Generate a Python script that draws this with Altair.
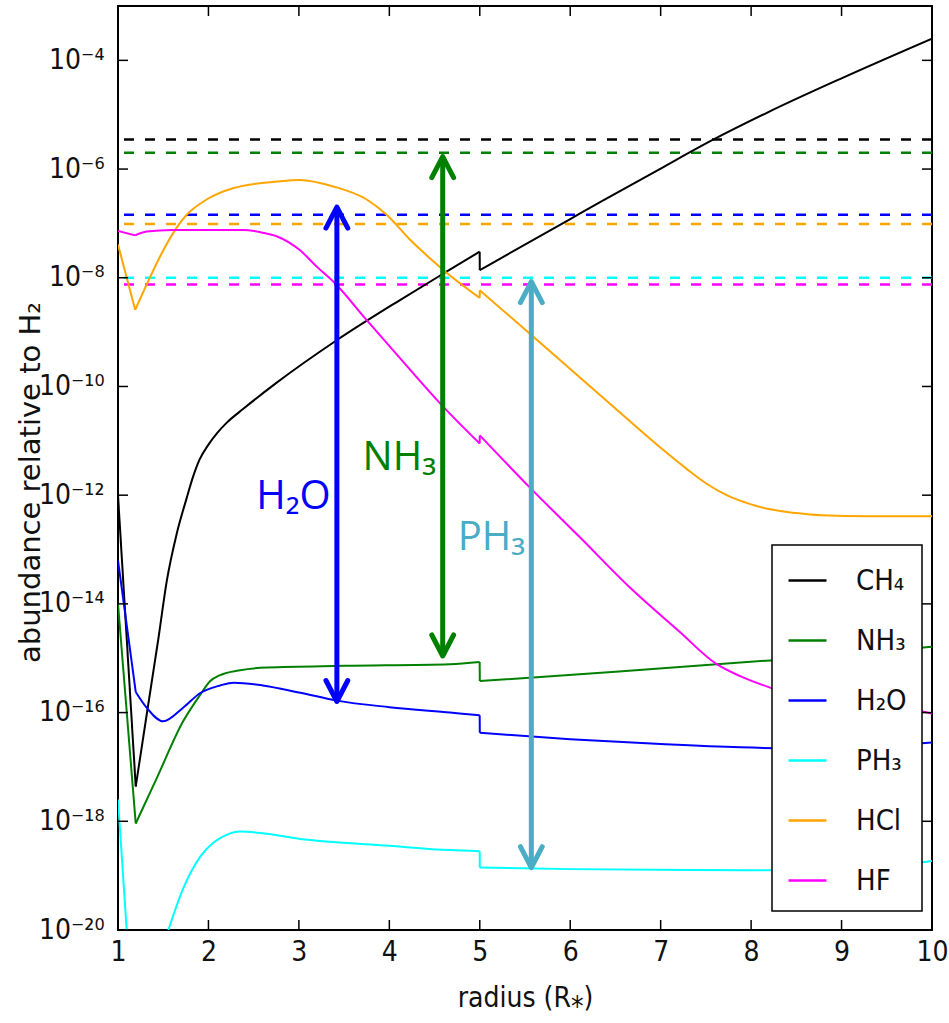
import altair as alt
import pandas as pd

# ---------------- data ----------------
species = ["CH₄", "NH₃", "H₂O", "PH₃", "HCl", "HF"]
species_colors = ["#000000", "#008000", "#0000ff", "#00ffff", "#ffa500", "#ff00ff"]

# radius (R*) and log10(abundance relative to H2)
ch4_r = [1.0, 1.196, 1.317, 1.45, 1.539, 1.649, 1.76, 1.832, 1.9, 2.0, 2.1, 2.2, 2.386, 2.755, 3.418, 4.118, 4.6, 4.999, 5.0, 6.0, 6.33, 7.0, 7.58, 8.18, 9.0, 10.0]
ch4_log = [-12.0, -17.36, -16.04, -14.6, -13.58, -12.71, -12.05, -11.65, -11.35, -11.07, -10.85, -10.67, -10.41, -9.93, -9.15, -8.41, -7.92, -7.52, -7.86, -6.92, -6.61, -5.99, -5.46, -4.96, -4.33, -3.6]
ch4_kinks = [1, 17, 18]

nh3_r = [1.0, 1.196, 1.43, 1.72, 1.91, 2.02, 2.13, 2.35, 2.65, 3.5, 4.67, 4.999, 5.0, 6.5, 8.21, 10.0]
nh3_log = [-14.0, -18.04, -17.2, -16.16, -15.67, -15.42, -15.31, -15.22, -15.17, -15.14, -15.11, -15.07, -15.42, -15.25, -15.04, -14.79]
nh3_kinks = [1, 11, 12]

h2o_r = [1.0, 1.196, 1.317, 1.5, 1.72, 1.91, 2.13, 2.28, 2.6, 3.0, 3.42, 4.0, 4.67, 4.999, 5.0, 6.0, 7.0, 7.88, 8.7, 9.3, 10.0]
h2o_log = [-13.2, -15.62, -15.91, -16.16, -15.91, -15.64, -15.5, -15.45, -15.5, -15.63, -15.78, -15.9, -16.0, -16.05, -16.37, -16.49, -16.58, -16.64, -16.66, -16.63, -16.55]
h2o_kinks = [1, 13, 14]

ph3_r = [1.0, 1.096, 1.15, 1.5, 1.557, 1.72, 1.91, 2.05, 2.2, 2.35, 2.6, 3.0, 4.0, 4.67, 4.999, 5.0, 6.0, 7.0, 8.0, 9.0, 9.5, 10.0]
ph3_log = [-17.6, -20.0, -21.0, -21.0, -20.0, -19.24, -18.65, -18.4, -18.25, -18.19, -18.22, -18.32, -18.45, -18.53, -18.55, -18.85, -18.88, -18.89, -18.9, -18.88, -18.83, -18.73]
ph3_kinks = [1, 2, 3, 4, 14, 15]

hcl_r = [1.0, 1.19, 1.76, 1.98, 2.28, 2.76, 3.01, 3.38, 3.75, 3.97, 4.23, 4.6, 4.999, 5.0, 5.45, 5.7, 6.0, 6.55, 7.03, 7.29, 7.5, 7.73, 8.0, 8.21, 8.5, 8.77, 9.3, 10.0]
hcl_log = [-7.39, -8.59, -6.84, -6.56, -6.35, -6.23, -6.2, -6.32, -6.56, -6.84, -7.3, -7.86, -8.37, -8.23, -8.88, -9.24, -9.68, -10.48, -11.17, -11.52, -11.78, -12.0, -12.17, -12.26, -12.33, -12.37, -12.39, -12.39]
hcl_kinks = [1, 12, 13]

hf_r = [1.0, 1.19, 1.317, 1.6, 2.38, 2.6, 2.76, 3.01, 3.2, 3.38, 3.75, 4.04, 4.6, 4.999, 5.0, 5.56, 6.11, 6.66, 7.2, 7.62, 7.88, 8.21, 8.6, 9.2, 9.87, 10.0]
hf_log = [-7.14, -7.22, -7.15, -7.12, -7.12, -7.17, -7.24, -7.49, -7.8, -8.07, -8.78, -9.33, -10.38, -11.05, -10.9, -11.87, -12.78, -13.7, -14.5, -15.11, -15.33, -15.54, -15.72, -15.87, -15.97, -16.02]
hf_kinks = [1, 13, 14]

# dashed reference levels (same order as species)
dashed_vals = [3.5e-6, 2.0e-6, 1.45e-7, 1.0e-8, 9.8e-8, 7.5e-9]

# annotation arrows
arrow_text = ["H₂O", "NH₃", "PH₃"]
arrow_colors = ["#0000ff", "#008000", "#4bacc6"]
arrow_x = [3.42, 4.59, 5.57]
arrow_lo = [1.6e-16, 1.1e-15, 1.4e-19]
arrow_hi = [2.0e-7, 1.7e-6, 8.5e-9]
label_x = [2.94, 4.11, 5.13]
label_y = [9.1e-13, 4.8e-12, 1.66e-13]

# axes ticks
x_tick_vals = [1, 2, 3, 4, 5, 6, 7, 8, 9, 10]
x_inner_ticks = [2, 3, 4, 5, 6, 7, 8, 9]
y_tick_vals = [1e-20, 1e-18, 1e-16, 1e-14, 1e-12, 1e-10, 1e-8, 1e-6, 1e-4]
y_tick_labels = ["10⁻²⁰", "10⁻¹⁸", "10⁻¹⁶", "10⁻¹⁴", "10⁻¹²", "10⁻¹⁰", "10⁻⁸", "10⁻⁶", "10⁻⁴"]

# ---------------- tables ----------------
curves = [(ch4_r, ch4_log, ch4_kinks), (nh3_r, nh3_log, nh3_kinks), (h2o_r, h2o_log, h2o_kinks),
          (ph3_r, ph3_log, ph3_kinks), (hcl_r, hcl_log, hcl_kinks), (hf_r, hf_log, hf_kinks)]
lin_rows, smooth_rows = [], []
for name, (rs, ls, kinks) in zip(species, curves):
    bounds = [0] + kinks + [len(rs) - 1]
    for k in range(len(bounds) - 1):
        a, b = bounds[k], bounds[k + 1]
        target = lin_rows if b - a == 1 else smooth_rows
        for i in range(a, b + 1):
            target.append({"species": name, "seg": "%s-%d" % (name, k), "r": rs[i],
                           "v": 10 ** ls[i], "i": i})
lin_df = pd.DataFrame(lin_rows)
smooth_df = pd.DataFrame(smooth_rows)
dash_df = pd.DataFrame({"species": species, "v": dashed_vals})

W, H = 814, 924
NARROW = "'Liberation Sans Narrow', 'DejaVu Sans Condensed', 'Liberation Sans', sans-serif"

xscale = alt.Scale(domain=[1, 10], nice=False, zero=False)
yscale = alt.Scale(type="log", domain=[1e-20, 1e-3], nice=False)

x_axis = alt.Axis(values=x_tick_vals, format="d", ticks=False, tickSize=0, domain=False, grid=False,
                  labelFont=NARROW, labelFontSize=28, labelPadding=8, labelFlush=False,
                  labelOverlap=False, labelColor="#111",
                  title="radius (R⁎)", titleFont=NARROW, titleFontSize=28,
                  titleFontWeight="normal", titlePadding=18, titleColor="#111")
y_label_expr = "[" + ",".join("'%s'" % s for s in y_tick_labels) + "][round((log(datum.value)/LN10 + 20)/2)]"
y_axis = alt.Axis(values=y_tick_vals, labelExpr=y_label_expr, ticks=False, tickSize=0, domain=False,
                  grid=False, labelFont=NARROW, labelFontSize=28, labelPadding=14,
                  labelOverlap=False, labelFlush=False, labelColor="#111",
                  title="abundance relative to H₂", titleFont="DejaVu Sans", titleFontSize=29,
                  titleFontWeight="normal", titleX=-88, titleY=476, titleAngle=270,
                  titleAlign="center", titleBaseline="middle", titleColor="#111")


def X(field="r"):
    return alt.X(field + ":Q", scale=xscale, axis=x_axis)


def Y(field="v"):
    return alt.Y(field + ":Q", scale=yscale, axis=y_axis)


color = alt.Color(
    "species:N",
    scale=alt.Scale(domain=species, range=species_colors),
    sort=species,
    legend=alt.Legend(title=None, orient="none", legendX=654, legendY=539,
                      fillColor="white", strokeColor="black", padding=15,
                      symbolType="stroke", symbolSize=1444, symbolStrokeWidth=2.5,
                      labelFont=NARROW, labelFontSize=29, labelOffset=28, rowPadding=24,
                      labelLimit=300, labelColor="#111"),
)

dashed = alt.Chart(dash_df).mark_rule(strokeDash=[10, 11], strokeWidth=2.5).encode(
    y=Y(), color=color)

lines_lin = alt.Chart(lin_df).mark_line(strokeWidth=2, clip=True).encode(
    x=X(), y=Y(), color=color, order="i:Q", detail="seg:N")
lines_smooth = alt.Chart(smooth_df).mark_line(strokeWidth=2, clip=True, interpolate="monotone").encode(
    x=X(), y=Y(), color=color, order="i:Q", detail="seg:N")

layers = [dashed, lines_lin, lines_smooth]

for t, c, ax, lo, hi, lx, ly in zip(arrow_text, arrow_colors, arrow_x, arrow_lo, arrow_hi, label_x, label_y):
    adf = pd.DataFrame({"r": [ax], "v": [lo], "v2": [hi]})
    layers.append(alt.Chart(adf).mark_rule(strokeWidth=5, color=c).encode(x=X(), y=Y(), y2="v2:Q"))
    up = pd.DataFrame({"r": [ax], "v": [hi]})
    dn = pd.DataFrame({"r": [ax], "v": [lo]})
    layers.append(alt.Chart(up).mark_point(shape="M-0.52,1L0,0L0.52,1", filled=False, size=1764,
                                           strokeWidth=5, color=c, opacity=1,
                                           strokeCap="round", strokeJoin="round").encode(x=X(), y=Y()))
    layers.append(alt.Chart(dn).mark_point(shape="M-0.52,-1L0,0L0.52,-1", filled=False, size=1764,
                                           strokeWidth=5, color=c, opacity=1,
                                           strokeCap="round", strokeJoin="round").encode(x=X(), y=Y()))
    tdf = pd.DataFrame({"r": [lx], "v": [ly], "t": [t]})
    layers.append(alt.Chart(tdf).mark_text(font="Open Sans", fontSize=40, color=c,
                                           align="center", baseline="middle").encode(
        x=X(), y=Y(), text="t:N"))

# inward ticks on all four sides
ydf = pd.DataFrame({"v": y_tick_vals})
xdf = pd.DataFrame({"r": x_inner_ticks})
tick_style = dict(color="black", strokeWidth=1.5)
layers.append(alt.Chart(ydf).mark_rule(**tick_style).encode(y=Y(), x=alt.value(0), x2=alt.value(10)))
layers.append(alt.Chart(ydf).mark_rule(**tick_style).encode(y=Y(), x=alt.value(W - 10), x2=alt.value(W)))
layers.append(alt.Chart(xdf).mark_rule(**tick_style).encode(x=X(), y=alt.value(0), y2=alt.value(10)))
layers.append(alt.Chart(xdf).mark_rule(**tick_style).encode(x=X(), y=alt.value(H - 10), y2=alt.value(H)))

chart = alt.layer(*layers).properties(
    width=W, height=H,
    padding={"left": 118, "top": 6, "right": 17, "bottom": 93},
    autosize=alt.AutoSizeParams(type="none"),
    background="white",
).configure_view(stroke="black", strokeWidth=2).configure_legend(strokeWidth=1.5)

chart.save("out.html", embed_options={"renderer": "svg", "actions": False})
